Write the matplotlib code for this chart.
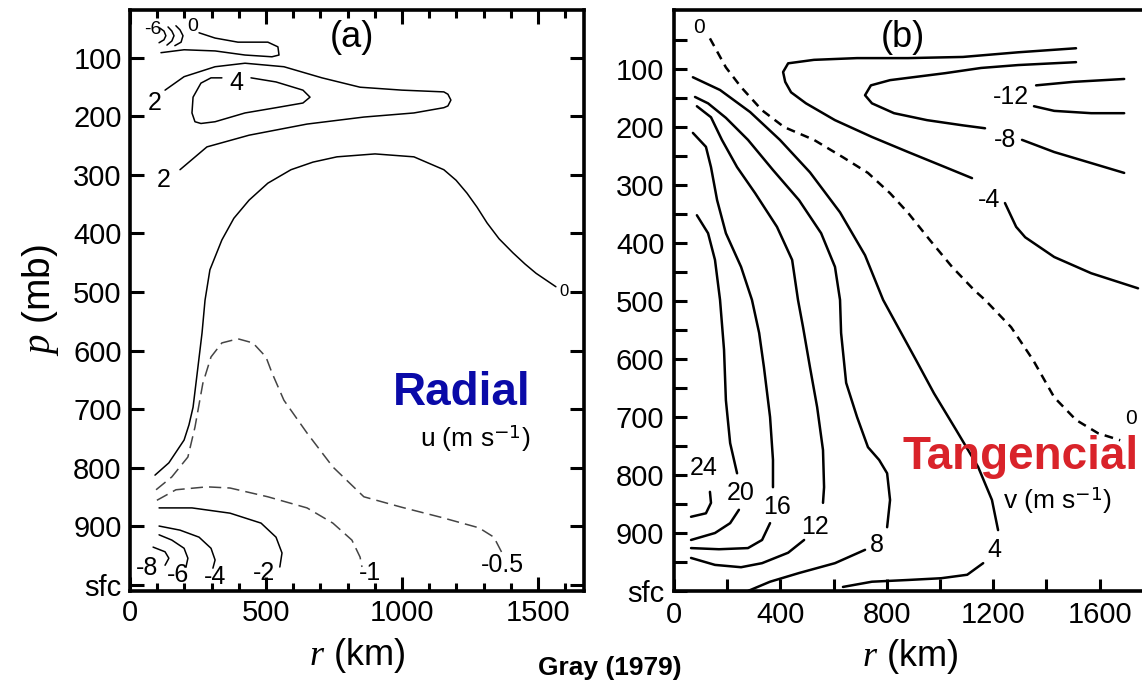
import matplotlib.pyplot as plt
from matplotlib.ticker import MultipleLocator, FixedLocator

plt.rcParams['font.family'] = ['Liberation Sans', 'DejaVu Sans']
plt.rcParams['mathtext.fontset'] = 'custom'
plt.rcParams['mathtext.rm'] = 'Liberation Sans'
plt.rcParams['mathtext.it'] = 'Liberation Serif:italic'
plt.rcParams['mathtext.bf'] = 'Liberation Sans:bold'

# ---------- (a) radial wind u (m/s), isolines: r (km), p (mb)
u0_top_r = [254, 313, 397, 507, 544, 548, 522, 423, 313, 199, 114]
u0_top_p = [57, 66, 73, 73, 81, 95, 98, 95, 88, 86, 91]
u_arc1_r = [110, 125, 132, 125, 107]
u_arc1_p = [49, 54, 62, 69, 74]
u_arc2_r = [140, 154, 162, 154, 136]
u_arc2_p = [47, 54, 62, 71, 78]
u_arc3_r = [169, 184, 195, 188, 165]
u_arc3_p = [45, 52, 62, 73, 79]
u2_r = [129, 199, 313, 423, 566, 706, 846, 1000, 1154, 1169, 1180, 1169, 1154, 1044, 860, 651, 438, 283, 184]
u2_p = [155, 132, 115, 109, 115, 134, 150, 155, 158, 162, 172, 182, 185, 194, 201, 213, 232, 252, 291]
u4_r = [445, 537, 636, 662, 636, 537, 423, 313, 261, 239, 228, 232, 261, 298, 338]
u4_p = [134, 141, 155, 167, 177, 185, 194, 209, 212, 209, 194, 167, 143, 134, 134]
u0_r = [92, 143, 199, 217, 232, 250, 265, 276, 294, 338, 382, 438, 507, 592, 673, 761, 901,
        1044, 1154, 1199, 1239, 1276, 1313, 1357, 1408, 1452, 1493, 1566]
u0_p = [813, 792, 753, 727, 697, 628, 570, 514, 462, 411, 374, 343, 314, 291, 278, 269, 264,
        269, 291, 309, 331, 355, 382, 409, 433, 452, 468, 491]
u_05_r = [96, 154, 213, 239, 268, 298, 338, 397, 452, 500, 522, 566, 651, 746, 860, 1000, 1143, 1283, 1338, 1368]
u_05_p = [838, 816, 782, 731, 656, 611, 587, 580, 587, 611, 638, 685, 741, 799, 850, 868, 885, 903, 919, 946]
u_1_r = [99, 169, 283, 368, 507, 651, 746, 816, 846, 853]
u_1_p = [856, 838, 833, 835, 850, 869, 895, 924, 953, 970]
u_2_r = [107, 228, 368, 482, 537, 559, 551]
u_2_p = [869, 869, 878, 895, 919, 946, 970]
u_4_r = [107, 184, 254, 298, 313, 305]
u_4_p = [900, 907, 919, 938, 958, 972]
u_6_r = [107, 154, 199, 213, 206]
u_6_p = [915, 924, 938, 955, 970]
u_8_r = [85, 129, 143, 129]
u_8_p = [936, 944, 955, 967]

a_labels = ['-6', '0', '2', '4', '2', '-8', '-6', '-4', '-2', '-1', '-0.5']
a_lab_r = [85, 232, 92, 390, 125, 64, 176, 312, 493, 882, 1368]
a_lab_p = [52, 47, 177, 143, 309, 972, 984, 987, 980, 980, 967]

# ---------- (b) tangential wind v (m/s)
v0_r = [135, 195, 252, 331, 414, 526, 635, 729, 812, 880, 962, 1045, 1128, 1169, 1267, 1350, 1429, 1511, 1594, 1677]
v0_p = [47, 97, 131, 171, 200, 222, 252, 279, 314, 348, 395, 441, 481, 498, 545, 602, 666, 705, 728, 740]
v_4_r = [1120, 1019, 880, 744, 605, 496, 440, 418, 410, 429, 526, 688, 880, 1086, 1293, 1511]
v_4_p = [288, 269, 243, 217, 188, 159, 140, 122, 105, 90, 84, 81, 81, 79, 71, 64]
v_4b_r = [1244, 1286, 1320, 1429, 1568, 1744]
v_4b_p = [331, 372, 390, 424, 452, 478]
v_8_r = [1511, 1293, 1154, 1019, 812, 740, 718, 744, 827, 951, 1086, 1169]
v_8_p = [88, 93, 98, 107, 119, 128, 145, 159, 176, 188, 197, 202]
v_8b_r = [1308, 1429, 1568, 1692]
v_8b_p = [222, 243, 262, 279]
v_12a_r = [1361, 1500, 1692]
v_12a_p = [128, 122, 117]
v_12b_r = [1353, 1429, 1568, 1692]
v_12b_p = [164, 172, 176, 176]
v4_r = [71, 173, 286, 398, 511, 624, 718, 786, 910, 977, 1060, 1143, 1195, 1218]
v4_p = [114, 136, 174, 222, 278, 347, 421, 498, 602, 659, 722, 786, 843, 895]
v4b_r = [1162, 1102, 1004, 880, 744, 635]
v4b_p = [952, 972, 978, 981, 984, 993]
v8_r = [79, 128, 195, 278, 372, 470, 553, 605, 624, 628, 647, 688, 729, 771, 801, 812, 801]
v8_p = [148, 159, 184, 222, 274, 326, 383, 441, 498, 555, 641, 700, 752, 774, 797, 843, 890]
v8b_r = [718, 605, 470, 361, 278]
v8b_p = [929, 952, 969, 984, 1000]
v12_r = [86, 139, 180, 237, 305, 387, 444, 466, 485, 511, 538, 560, 564, 560]
v12_p = [164, 183, 222, 269, 314, 372, 429, 498, 545, 614, 683, 757, 821, 848]
v12b_r = [489, 429, 331, 252, 154, 64]
v12b_p = [912, 934, 952, 959, 955, 943]
v16_r = [71, 120, 139, 162, 195, 252, 293, 320, 338, 361, 372, 372]
v16_p = [210, 234, 269, 326, 383, 441, 498, 555, 614, 700, 774, 821]
v16b_r = [361, 331, 278, 169, 64]
v16b_p = [883, 912, 926, 928, 926]
v20_r = [86, 128, 154, 173, 188, 195, 211, 237]
v20_p = [352, 383, 429, 498, 584, 671, 745, 797]
v20b_r = [244, 211, 154, 64]
v20b_p = [860, 883, 900, 912]
v24_r = [135, 139, 120, 64]
v24_p = [829, 848, 866, 872]

b_labels = ['0', '-12', '-8', '-4', '0', '24', '20', '16', '12', '8', '4']
b_lab_r = [94, 1267, 1244, 1184, 1716, 113, 252, 387, 530, 763, 1203]
b_lab_p = [29, 148, 222, 326, 702, 788, 831, 855, 890, 921, 929]

p_ticks = [100, 200, 300, 400, 500, 600, 700, 800, 900, 1000]
p_ticklabels = ['100', '200', '300', '400', '500', '600', '700', '800', '900', 'sfc']

fig = plt.figure(figsize=(11.42, 6.88), dpi=100)
axa = fig.add_axes([0.1138, 0.1410, 0.3975, 0.8445])
axb = fig.add_axes([0.5902, 0.1410, 0.4133, 0.8445])

# panel (a)
la = dict(color='black', lw=1.1, solid_joinstyle='round', solid_capstyle='round')
da = dict(color='#444444', lw=1.1, dashes=(8, 4))
for r, p in [(u0_top_r, u0_top_p), (u_arc1_r, u_arc1_p), (u_arc2_r, u_arc2_p),
             (u_arc3_r, u_arc3_p), (u2_r, u2_p), (u4_r, u4_p), (u0_r, u0_p),
             (u_2_r, u_2_p), (u_4_r, u_4_p), (u_6_r, u_6_p), (u_8_r, u_8_p)]:
    axa.plot(r, p, **la)
for r, p in [(u_05_r, u_05_p), (u_1_r, u_1_p)]:
    axa.plot(r, p, **da)
for i, t in enumerate(a_labels):
    fs = 14 if i < 2 else 18
    axa.text(a_lab_r[i], a_lab_p[i], t, fontsize=fs, ha='center', va='center')
axa.text(1595, 500, '0', fontsize=12, ha='center', va='center')
axa.text(0.489, 0.952, '(a)', transform=axa.transAxes, fontsize=26, ha='center', va='center')

axa.set_xlim(0, 1669)
axa.set_ylim(1011, 18)
axa.xaxis.set_major_locator(FixedLocator([0, 500, 1000, 1500]))
axa.xaxis.set_minor_locator(MultipleLocator(100))
axa.set_yticks(p_ticks)
axa.set_yticklabels(p_ticklabels)
axa.tick_params(which='both', direction='in', top=True, right=True, width=2.2,
                labelsize=21, pad=6)
axa.tick_params(which='major', length=10)
axa.tick_params(which='minor', length=6)
axa.set_xlabel(r'$r$ (km)', fontsize=26, labelpad=6)
axa.set_ylabel(r'$p$ (mb)', fontsize=28, labelpad=9)

# panel (b)
lb = dict(color='black', lw=1.8, solid_joinstyle='round', solid_capstyle='round')
for r, p in [(v_4_r, v_4_p), (v_4b_r, v_4b_p), (v_8_r, v_8_p), (v_8b_r, v_8b_p),
             (v_12a_r, v_12a_p), (v_12b_r, v_12b_p), (v4_r, v4_p), (v4b_r, v4b_p),
             (v8_r, v8_p), (v8b_r, v8b_p), (v12_r, v12_p), (v12b_r, v12b_p),
             (v16_r, v16_p), (v16b_r, v16b_p), (v20_r, v20_p), (v20b_r, v20b_p),
             (v24_r, v24_p)]:
    axb.plot(r, p, **lb)
axb.plot(v0_r, v0_p, color='black', lw=1.8, dashes=(3.5, 2.5))
for i, t in enumerate(b_labels):
    fs = 15 if t == '0' else 18
    axb.text(b_lab_r[i], b_lab_p[i], t, fontsize=fs, ha='center', va='center')
axb.text(0.485, 0.952, '(b)', transform=axb.transAxes, fontsize=26, ha='center', va='center')

axb.set_xlim(0, 1774)
axb.set_ylim(1000, -2)
axb.xaxis.set_major_locator(FixedLocator([0, 400, 800, 1200, 1600]))
axb.xaxis.set_minor_locator(FixedLocator([200, 600, 1000, 1400]))
axb.set_yticks(p_ticks)
axb.set_yticklabels(p_ticklabels)
axb.yaxis.set_minor_locator(MultipleLocator(100, offset=50))
axb.tick_params(which='both', direction='in', width=2.2, length=9, labelsize=21, pad=7)
axb.set_xlabel(r'$r$ (km)', fontsize=26, labelpad=6)

for ax in (axa, axb):
    for s in ax.spines.values():
        s.set_linewidth(2.6)

fig.text(0.4046, 0.4288, 'Radial', color='#0a0aa8', fontsize=33, fontweight='bold',
         ha='center', va='center')
fig.text(0.416, 0.363, r'u (m s$^{\mathsf{-1}}$)', fontsize=19, ha='center', va='center')
fig.text(0.7907, 0.3358, 'Tangencial', color='#d9232a', fontsize=33, fontweight='bold',
         ha='left', va='center')
fig.text(0.926, 0.273, r'v (m s$^{\mathsf{-1}}$)', fontsize=19, ha='center', va='center')
fig.text(0.534, 0.029, 'Gray (1979)', fontsize=19, fontweight='bold', ha='center', va='center')

fig.savefig('out.png', dpi=100)
